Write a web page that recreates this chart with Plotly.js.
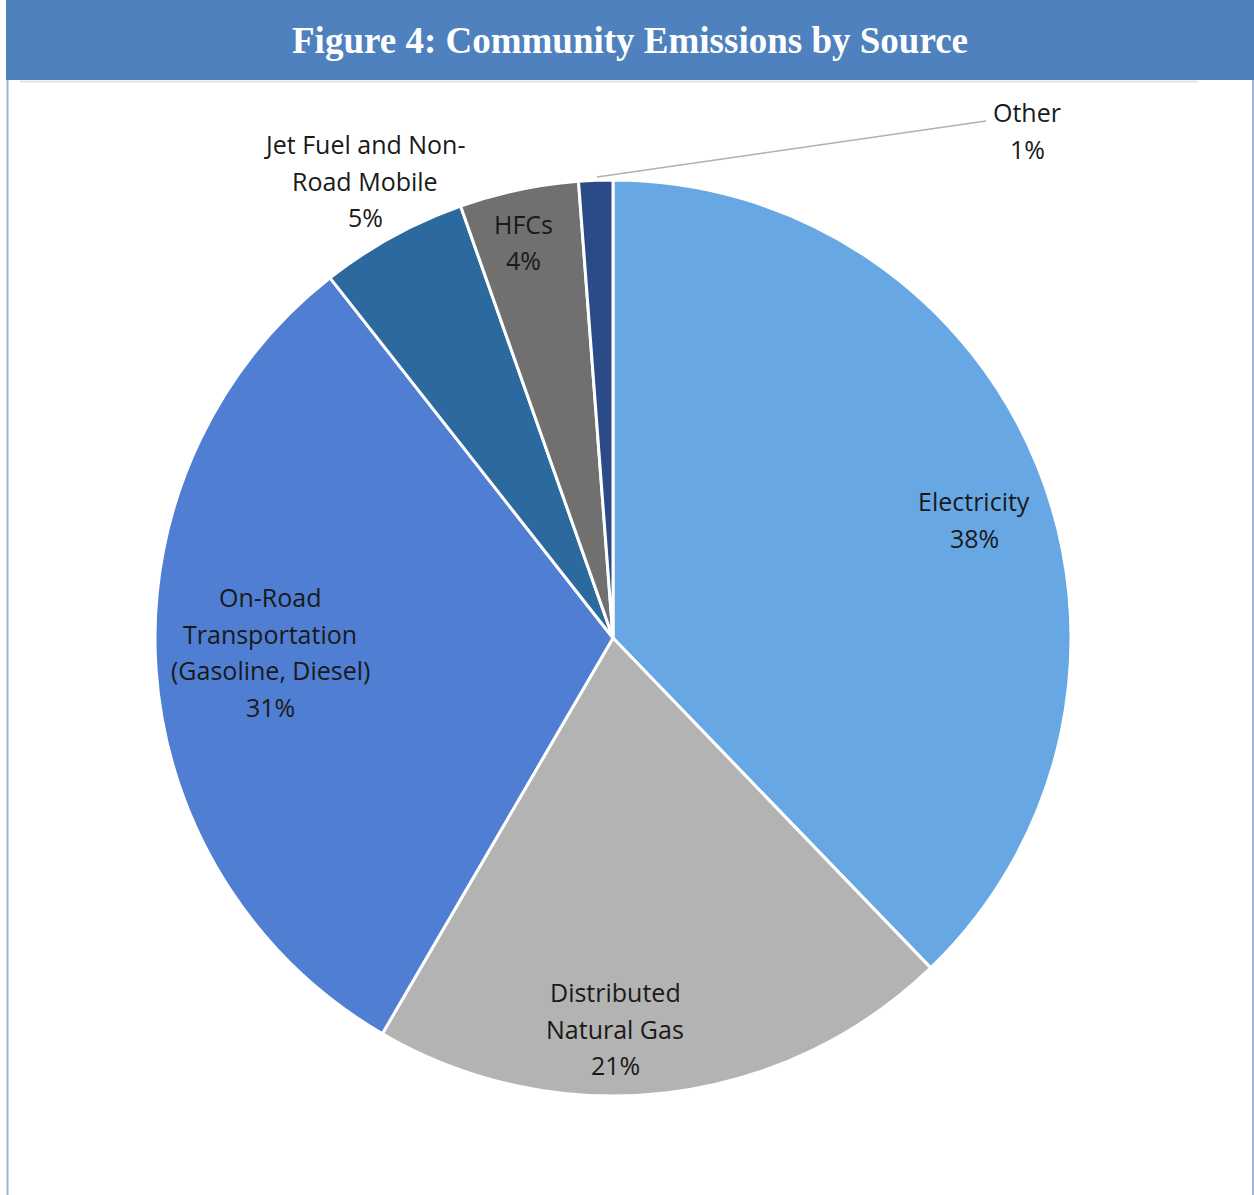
<!DOCTYPE html>
<html>
<head>
<meta charset="utf-8">
<script src="https://cdn.plot.ly/plotly-3.0.1.min.js"></script>
<style>html,body{margin:0;padding:0;background:#fff;}#chart{width:1254px;height:1195px;}</style>
</head>
<body>
<div id="chart"></div>
<script>
// Data
const categories = ["Electricity", "Distributed<br>Natural Gas", "On-Road<br>Transportation<br>(Gasoline, Diesel)", "Jet Fuel and Non-<br>Road Mobile", "HFCs", "Other"];
const shares = [37.8, 20.6, 31.0, 5.2, 4.2, 1.2];
const colors = ["#67a8e4", "#b3b3b3", "#4f7ed3", "#2b699f", "#707070", "#2a4b87"];
const chartTitle = "Figure 4: Community Emissions by Source";

// Label placement (pixel centres of first line)
const W = 1254, H = 1195;
const labelPos = [[974, 501], [615, 992], [270, 597], [365, 144], [523, 224], [1027, 112]];
const lineGap = 36.5;

const annotations = [];
const total = shares.reduce((a, b) => a + b, 0);
categories.forEach((c, i) => {
  const lines = c.split("<br>").concat([Math.round(shares[i] / total * 100) + "%"]);
  lines.forEach((t, j) => {
    annotations.push({
      xref: "paper", yref: "paper",
      x: labelPos[i][0] / W, y: 1 - (labelPos[i][1] + j * lineGap) / H,
      text: t, showarrow: false, xanchor: "center", yanchor: "middle",
      font: {family: "Open Sans, sans-serif", size: 25, color: "#1a1a1a"}
    });
  });
});

const trace = {
  type: "pie",
  labels: categories,
  values: shares,
  sort: false,
  direction: "clockwise",
  rotation: 0,
  marker: {colors: colors, line: {color: "#ffffff", width: 3}},
  textinfo: "none",
  hoverinfo: "label+percent",
  domain: {x: [155 / W, 1071 / W], y: [(H - 1096) / H, (H - 180) / H]},
  showlegend: false
};

const layout = {
  width: W, height: H,
  margin: {l: 0, r: 0, t: 0, b: 0},
  paper_bgcolor: "#ffffff",
  showlegend: false,
  title: {
    text: "<b>" + chartTitle + "</b>",
    x: 630 / W, xanchor: "center", y: 1 - 40 / H, yanchor: "middle",
    font: {family: "Liberation Serif, serif", size: 37, color: "#ffffff"}
  },
  shapes: [
    {type: "rect", xref: "paper", yref: "paper", x0: 6 / W, x1: 1, y0: 1 - 80 / H, y1: 1, fillcolor: "#4e81bd", line: {width: 0}, layer: "below"},
    {type: "line", xref: "paper", yref: "paper", x0: 20 / W, x1: 1198 / W, y0: 1 - 81.5 / H, y1: 1 - 81.5 / H, line: {color: "#e3e3e3", width: 2}},
    {type: "line", xref: "paper", yref: "paper", x0: 7.5 / W, x1: 7.5 / W, y0: 0, y1: 1 - 80 / H, line: {color: "#9ab8dc", width: 2}},
    {type: "line", xref: "paper", yref: "paper", x0: 1253 / W, x1: 1253 / W, y0: 0, y1: 1 - 80 / H, line: {color: "#9ab8dc", width: 2}},
    {type: "line", xref: "paper", yref: "paper", x0: 597 / W, x1: 986 / W, y0: 1 - 177 / H, y1: 1 - 121 / H, line: {color: "#b0b0b0", width: 1.5}}
  ],
  annotations: annotations
};

Plotly.newPlot("chart", [trace], layout, {displayModeBar: false, staticPlot: true});
</script>
</body>
</html>
